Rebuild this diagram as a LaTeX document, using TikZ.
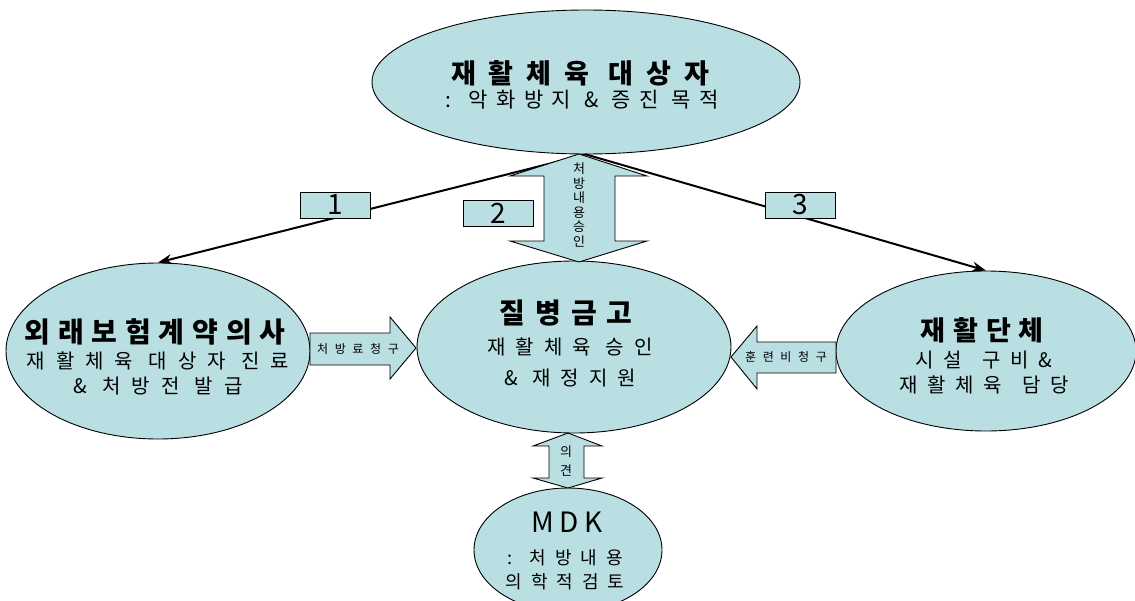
\documentclass[tikz,border=0pt]{standalone}
\usepackage{fontspec}
\setmainfont{Noto Sans CJK KR}
\usetikzlibrary{shapes.geometric,arrows.meta}
\definecolor{skyfill}{RGB}{185,223,227}
\newcommand{\trk}[1]{\addfontfeature{LetterSpace=#1}}
\newcommand{\fs}[2]{\fontsize{#1}{#2}\selectfont}
\newcommand{\ws}{\ \hspace{0.3em}}

\begin{document}
\begin{tikzpicture}[x=1pt, y=-1pt,
    oval/.style={ellipse, draw, line width=0.9pt, fill=skyfill, inner sep=0pt},
    numbox/.style={rectangle, draw, line width=0.9pt, fill=skyfill, minimum width=70pt, minimum height=26pt, inner sep=0pt, font=\fs{28}{26}},
    blockarrow/.style={draw, line width=0.9pt, fill=skyfill, line join=miter},
    txt/.style={inner sep=0pt, align=center}]
    \useasboundingbox (0,0) rectangle (1135,600);
    \clip (0,0) rectangle (1135,600);

    % ellipses
    \node[oval, minimum width=428pt, minimum height=144pt] (target) at (586,82) {};
    \node[oval, minimum width=304pt, minimum height=176pt] (doctor) at (158,351) {};
    \node[oval, minimum width=314pt, minimum height=172pt] (fund) at (574,347) {};
    \node[oval, minimum width=300pt, minimum height=160pt] (club) at (986,351) {};
    \node[oval, minimum width=188pt, minimum height=124pt] (mdk) at (568,550) {};

    % connectors 1 and 3
    \draw[->, >={Stealth[length=14pt, width=10pt]}, line width=2pt] (target.south) -- (doctor.north);
    \draw[->, >={Stealth[length=14pt, width=10pt]}, line width=2pt] (target.south) -- (club.north);

    % block arrows
    \draw[blockarrow] (579,154) -- (647,176) -- (615,176) -- (615,241) -- (647,241) -- (579,262)
        -- (510,241) -- (544,241) -- (544,176) -- (510,176) -- cycle;
    \draw[blockarrow] (310,333) -- (390,333) -- (390,317) -- (416,348) -- (390,379) -- (390,365) -- (310,365) -- cycle;
    \draw[blockarrow] (731,357) -- (757,326) -- (757,342) -- (836,342) -- (836,373) -- (757,373) -- (757,389) -- cycle;
    \draw[blockarrow] (568,433) -- (602,446) -- (584,446) -- (584,478) -- (602,478) -- (568,488)
        -- (533,478) -- (549,478) -- (549,446) -- (533,446) -- cycle;

    % number boxes
    \node[numbox] (one) at (335,205) {1};
    \node[numbox] (two) at (498,213) {2};
    \node[numbox] (three) at (800,205) {3};

    % texts
    \node[txt, font=\fs{27}{30}\bfseries\trk{48}] (target-t) at (580,73) {재활체육 대상자};
    \node[txt, font=\fs{21}{24}\trk{40}] (target-s) at (582,100) {: 악화방지 \& 증진 목적};

    \node[txt, font=\fs{28}{30}\bfseries\trk{28}] (doctor-t) at (155,332) {외래보험계약의사};
    \node[txt, font=\fs{20}{25}\trk{55}] (doctor-s) at (158,373) {재활체육 대상자 진료\\\& 처방전 발급};

    \node[txt, font=\fs{28}{30}\bfseries\trk{36}] (fund-t) at (566,313) {질병금고};
    \node[txt, font=\fs{20}{31}\trk{50}] (fund-s) at (570,362) {재활체육 승인\\\& 재정지원};

    \node[txt, font=\fs{27}{30}\bfseries\trk{30}] (club-t) at (982,330) {재활단체};
    \node[txt, font=\fs{20}{25}\trk{48}] (club-s) at (984,373) {시설\ws 구비\&\\재활체육\ws 담당};

    \node[txt, font=\fs{28}{30}\trk{20}] (mdk-t) at (567,522) {MDK};
    \node[txt, font=\fs{18}{24}\trk{50}] (mdk-s) at (565,570) {: 처방내용\\의학적검토};

    \node[txt, font=\fs{12}{14}\trk{55}] (fee) at (358,349) {처방료청구};
    \node[txt, font=\fs{12}{14}\trk{55}] (cost) at (786,357) {훈련비청구};
    \node[txt, font=\fs{13}{14.5}] (approve) at (579,205) {처\\방\\내\\용\\승\\인};
    \node[txt, font=\fs{13}{19}] (opinion) at (566,461) {의\\견};
\end{tikzpicture}
\end{document}
